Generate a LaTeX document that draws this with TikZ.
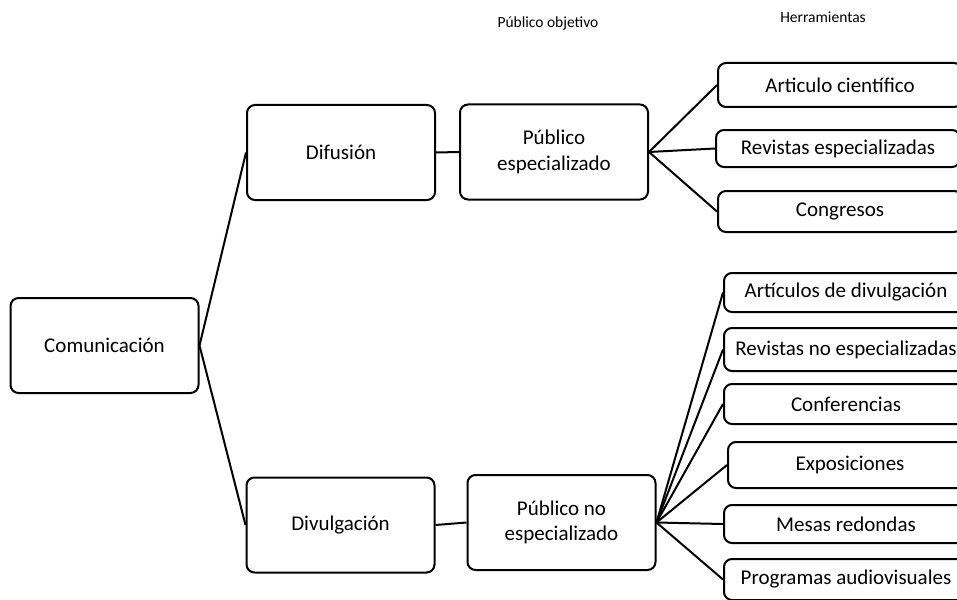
\documentclass[tikz,border=0pt]{standalone}
\usepackage{fontspec}
\setmainfont{Carlito}
\begin{document}
\begin{tikzpicture}[x=1pt, y=-1pt,
   line width=2pt,
   box/.style={draw, rounded corners=8pt, align=center, inner sep=0pt,
               minimum width=188pt, minimum height=95pt,
               font=\fontsize{21}{25.5}\selectfont},
   tool/.style={box, anchor=west, minimum width=244pt, minimum height=41pt},
   header/.style={font=\fontsize{15.5}{18}\selectfont}]

\useasboundingbox (0,0) rectangle (957,599);
\clip (0,0) rectangle (957,599);

\node[header] (hpub) at (548,23) {Público objetivo};
\node[header] (hherr) at (823,17) {Herramientas};

\node[box] (com) at (104.5,345.5) {Comunicación};
\node[box] (dif) at (341,152.5) {Difusión};
\node[box] (div) at (340.5,525) {Divulgación};
\node[box] (pesp) at (554,152) {Público\\especializado};
\node[box] (pnoesp) at (561.5,522.5) {Público no\\especializado};

\node[tool, minimum height=44pt] (art) at (717,85) {Articulo científico};
\node[tool, minimum height=37pt] (resp) at (715,148.5) {Revistas especializadas};
\node[tool] (cong) at (717,211.5) {Congresos};

\node[tool, minimum height=39pt] (adiv) at (723,292.5) {Artículos de divulgación};
\node[tool, minimum height=43pt] (rnoesp) at (723,349.5) {Revistas no especializadas};
\node[tool, minimum height=40pt] (conf) at (723,404) {Conferencias};
\node[tool, minimum height=46pt] (expo) at (727,465) {Exposiciones};
\node[tool, minimum height=38pt] (mesas) at (723,524) {Mesas redondas};
\node[tool] (prog) at (723,579.5) {Programas audiovisuales};

\draw (com.east) -- (dif.west);
\draw (com.east) -- (div.west);
\draw (dif.east) -- (pesp.west);
\draw (div.east) -- (pnoesp.west);

\foreach \t in {art,resp,cong}
   \draw (pesp.east) -- (\t.west);
\foreach \t in {adiv,rnoesp,conf,expo,mesas,prog}
   \draw (pnoesp.east) -- (\t.west);

\end{tikzpicture}
\end{document}
